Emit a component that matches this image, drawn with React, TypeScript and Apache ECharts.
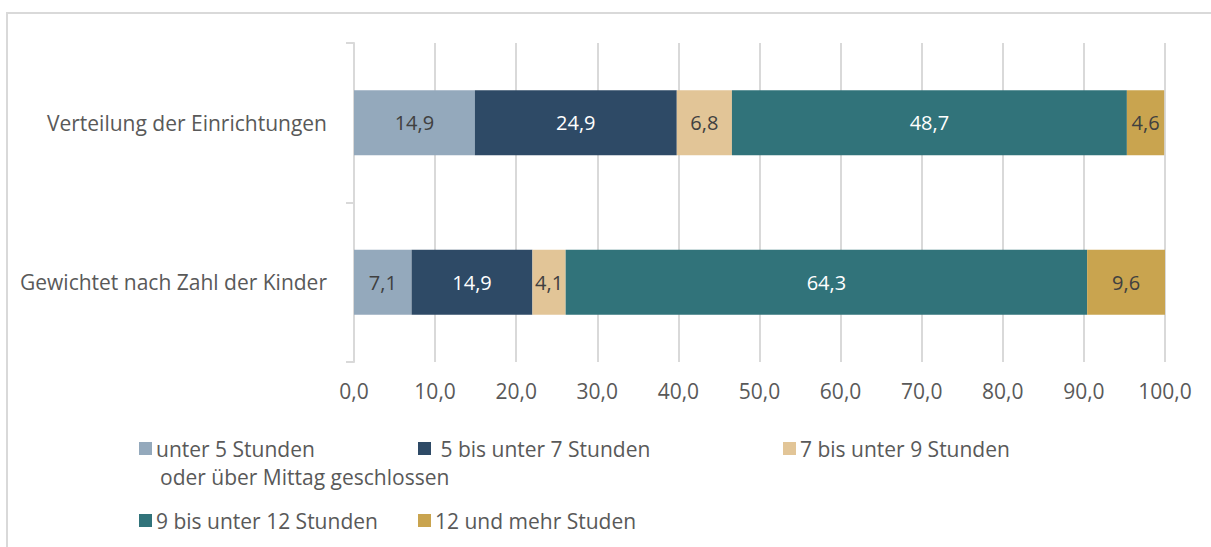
import React, { useEffect, useRef } from "react";
import * as echarts from "echarts";

const categories = ["Verteilung der Einrichtungen", "Gewichtet nach Zahl der Kinder"];
const seriesNames = [
  "unter 5 Stunden",
  " 5 bis unter 7 Stunden",
  "7 bis unter 9 Stunden",
  "9 bis unter 12 Stunden",
  "12 und mehr Studen",
];
const under5 = [14.9, 7.1];
const from5to7 = [24.9, 14.9];
const from7to9 = [6.8, 4.1];
const from9to12 = [48.7, 64.3];
const over12 = [4.6, 9.6];
const seriesValues = [under5, from5to7, from7to9, from9to12, over12];
const colors = ["#94A9BC", "#2E4A66", "#E2C597", "#31737A", "#C9A44F"];
const labelColors = ["#404040", "#FFFFFF", "#404040", "#FFFFFF", "#404040"];
const legendSecondLine = "oder über Mittag geschlossen";

const FONT = "Open Sans";

export default function App() {
  const ref = useRef<HTMLDivElement>(null);
  useEffect(() => {
    if (!ref.current) return;
    const chart = echarts.init(ref.current, undefined, { renderer: "svg" });
    const legendPos = [
      { left: 139, top: 438 },
      { left: 418, top: 438 },
      { left: 783, top: 438 },
      { left: 139, top: 510 },
      { left: 418, top: 510 },
    ];
    chart.setOption({
      animation: false,
      textStyle: { fontFamily: FONT },
      grid: { left: 354, right: 46, top: 43, bottom: 185 },
      xAxis: {
        type: "value",
        min: 0,
        max: 100,
        interval: 10,
        axisLine: { show: false },
        axisTick: { show: false },
        splitLine: { lineStyle: { color: "#D9D9D9", width: 2 } },
        axisLabel: {
          color: "#595959",
          fontSize: 21,
          fontFamily: FONT,
          margin: 18,
          formatter: (v: number) => v.toFixed(1).replace(".", ","),
        },
      },
      yAxis: {
        type: "category",
        data: categories,
        inverse: true,
        axisLine: { show: true, lineStyle: { color: "#D9D9D9", width: 2 } },
        axisTick: { show: true, length: 8, lineStyle: { color: "#D9D9D9", width: 2 } },
        axisLabel: { color: "#595959", fontSize: 21, fontFamily: FONT, margin: 27 },
      },
      legend: seriesNames.map((n, i) => ({
        data: [n],
        left: legendPos[i].left,
        top: legendPos[i].top,
        padding: 0,
        itemWidth: 13,
        itemHeight: 13,
        itemGap: 5,
        icon: "rect",
        selectedMode: false,
        textStyle: { color: "#595959", fontSize: 21, fontFamily: FONT, padding: [0, 0, 0, -1] },
      })),
      series: seriesNames.map((n, i) => ({
        name: n,
        type: "bar",
        stack: "total",
        data: seriesValues[i],
        barWidth: 65,
        itemStyle: { color: colors[i] },
        label: {
          show: true,
          position: "inside",
          color: labelColors[i],
          fontSize: 20,
          fontFamily: FONT,
          formatter: (p: any) => Number(p.value).toFixed(1).replace(".", ","),
        },
      })),
      graphic: [
        {
          type: "rect",
          shape: { x: 7, y: 13, width: 1300, height: 700 },
          style: { fill: "none", stroke: "#D9D9D9", lineWidth: 2 },
          silent: true,
          z: -1,
        },
        {
          type: "text",
          left: 160,
          top: 466,
          style: { text: legendSecondLine, fill: "#595959", fontSize: 21, fontFamily: FONT },
        },
      ],
    });
    return () => chart.dispose();
  }, []);
  return <div ref={ref} style={{ width: 1211, height: 547, position: "absolute", left: 0, top: 0 }} />;
}
